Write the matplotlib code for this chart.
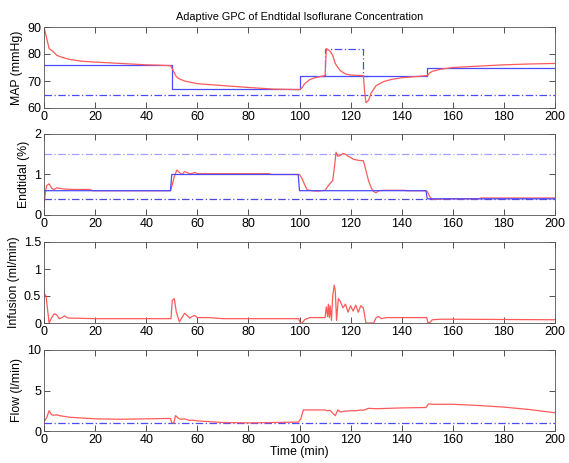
import matplotlib
matplotlib.use("Agg")
import matplotlib.pyplot as plt
import numpy as np

plt.rcParams['font.family'] = ['Liberation Sans', 'DejaVu Sans']

RED = '#ff5a5a'
BLUE = '#4a4aff'
LBLUE = '#a0a0ff'
DBLUE = '#4a4ae0'

# ---- MAP panel ----
map_t = [0, 1, 2, 3.5, 5, 7, 10, 15, 20, 30, 40, 49.5, 50.5, 51.5, 52.5, 55, 60, 70, 80, 90, 100,
         101, 102, 104, 106, 108, 110, 110.5, 112, 113, 114, 115, 116, 118, 120, 125,
         125.5, 126, 127, 128, 130, 133, 136, 140, 145, 150, 151, 152, 155, 160, 170, 180, 190, 200]
map_meas = [90, 86, 82, 81, 79.5, 78.8, 78, 77.3, 77, 76.5, 76, 75.7, 74, 72, 71, 70, 69, 68.3, 67.6, 67, 66.8,
            67.5, 69, 70.5, 71.2, 71.6, 72, 82, 81, 79.5, 76.5, 75, 73.8, 72.6, 72.2, 72,
            66, 62, 62.8, 65.5, 68.3, 69.8, 70.6, 71.2, 71.6, 72, 73, 73.6, 74.3, 75, 75.5, 76, 76.3, 76.5]
map_sp_t = [0, 50, 50, 100, 100, 150, 150, 200]
map_sp = [76, 76, 67, 67, 72, 72, 75, 75]
map_dist_t = [108, 110, 110, 125, 125, 127]
map_dist = [72, 72, 82, 82, 72, 72]
map_min = 65

# ---- Endtidal panel ----
et_t = [0, 0.5, 1, 2, 3, 4, 5, 6, 8, 12, 18, 19, 49.5, 50, 51, 52, 53, 54, 55, 56, 57, 58, 59, 60, 70, 88, 89, 99.5,
        100, 101, 102, 103, 105, 107, 110, 111, 112, 113, 113.7, 114.3, 115, 116, 117, 118, 119, 120, 121, 123, 125,
        126, 127, 128, 129, 130, 131, 133, 141, 142, 149.5, 150, 151, 152, 155, 156, 170, 171, 200]
et_meas = [0.2, 0.55, 0.72, 0.77, 0.66, 0.63, 0.67, 0.66, 0.64, 0.63, 0.63, 0.6, 0.6, 0.7, 0.95, 1.11, 1.05, 1.0, 1.07, 1.05, 1.02, 1.03, 1.05, 1.02, 1.02, 1.02, 1.0, 1.0,
           1.0, 0.9, 0.75, 0.62, 0.6, 0.59, 0.61, 0.7, 0.78, 0.85, 1.2, 1.55, 1.45, 1.47, 1.52, 1.5, 1.45, 1.42, 1.38, 1.35, 1.34,
           1.1, 0.85, 0.68, 0.58, 0.55, 0.6, 0.61, 0.61, 0.6, 0.6, 0.58, 0.45, 0.39, 0.39, 0.4, 0.4, 0.42, 0.42]
et_sp_t = [0, 49.5, 50, 99.5, 100, 149.5, 150, 200]
et_sp = [0.6, 0.6, 1.0, 1.0, 0.6, 0.6, 0.4, 0.4]
et_max = 1.5
et_min = 0.4

# ---- Infusion panel ----
inf_t = [0, 0.8, 2, 3, 4, 5, 6, 7, 8, 9, 10, 12, 20, 30, 49.7, 50.2, 51, 51.8, 53, 54, 55, 56, 57, 58, 59, 60, 65, 70,
         99.7, 100.3, 101, 102, 104, 110, 110.5, 111, 111.3, 111.7, 112, 112.5, 113, 113.6, 114, 114.5, 115.2, 116, 117,
         118, 119, 120, 121, 122, 123, 124, 125, 126, 129, 130, 131, 132, 134, 140, 149.8, 150.3, 151, 152, 155, 160, 200]
inf_val = [0.55, 0.5, 0.0, 0.1, 0.17, 0.15, 0.08, 0.1, 0.13, 0.1, 0.09, 0.09, 0.08, 0.08, 0.08, 0.42, 0.45, 0.2, 0.02, 0.1, 0.18, 0.14, 0.09, 0.12, 0.14, 0.1, 0.1, 0.08,
           0.08, 0.0, 0.0, 0.06, 0.1, 0.1, 0.3, 0.12, 0.35, 0.1, 0.32, 0.05, 0.5, 0.7, 0.6, 0.05, 0.45, 0.4, 0.28,
           0.35, 0.2, 0.32, 0.22, 0.33, 0.2, 0.32, 0.28, 0.0, 0.0, 0.1, 0.12, 0.08, 0.1, 0.1, 0.1, 0.0, 0.01, 0.06, 0.07, 0.07, 0.06]

# ---- Flow panel ----
flow_t = [0, 1, 2, 3, 4, 5, 6, 8, 10, 15, 20, 30, 40, 49.5, 50, 50.8, 51.5, 52.5, 53.5, 55, 57, 58, 60, 65, 70, 80, 90, 99.5,
          100.5, 101.5, 105, 110, 111, 112, 113, 114, 115, 116, 118, 120, 122, 124, 125, 127, 130, 140, 149.5, 150.5, 152, 155,
          160, 170, 180, 190, 200]
flow_val = [1.2, 1.6, 2.5, 2.0, 1.95, 2.0, 1.9, 1.8, 1.7, 1.6, 1.5, 1.45, 1.5, 1.55, 1.0, 1.0, 1.9, 1.6, 1.45, 1.5, 1.3, 1.35, 1.25, 1.15, 1.05, 1.0, 1.05, 1.1,
            1.5, 2.6, 2.6, 2.6, 2.5, 2.55, 2.2, 1.9, 2.6, 2.35, 2.45, 2.5, 2.5, 2.6, 2.55, 2.8, 2.75, 2.85, 2.9, 3.35, 3.3, 3.3,
            3.3, 3.15, 2.95, 2.65, 2.25]
flow_min = 1.0

xticks = list(range(0, 201, 20))

fig = plt.figure(figsize=(5.69, 4.63), dpi=100)
L, W, H = 44 / 569, 511 / 569, 81 / 463
bottoms = [1 - 108 / 463, 1 - 215 / 463, 1 - 323 / 463, 1 - 431 / 463]
axes = [fig.add_axes([L, b, W, H]) for b in bottoms]

lw = 0.9
DD = (0, (6, 2, 1, 2))
a = axes[0]
a.plot(map_dist_t, map_dist, color=BLUE, lw=lw, ls=DD)
a.plot(map_sp_t, map_sp, color=BLUE, lw=lw)
a.axhline(map_min, color=BLUE, lw=lw, ls=DD)
a.plot(map_t, map_meas, color=RED, lw=lw)
a.set_ylim(60, 90)
a.set_yticks([60, 70, 80, 90])
a.set_ylabel('MAP (mmHg)')
a.set_title('Adaptive GPC of Endtidal Isoflurane Concentration', fontsize=7.8, pad=5)

a = axes[1]
a.axhline(et_max, color=LBLUE, lw=lw, ls=DD)
a.axhline(et_min, color=DBLUE, lw=lw, ls=DD)
a.plot(et_t, et_meas, color=RED, lw=lw)
a.plot(et_sp_t, et_sp, color=BLUE, lw=lw)
a.set_ylim(0, 2)
a.set_yticks([0, 1, 2])
a.set_ylabel('Endtidal (%)')

a = axes[2]
a.plot(inf_t, inf_val, color=RED, lw=lw)
a.set_ylim(0, 1.5)
a.set_yticks([0, 0.5, 1, 1.5])
a.set_yticklabels(['0', '0.5', '1', '1.5'])
a.set_ylabel('Infusion (ml/min)')

a = axes[3]
a.axhline(flow_min, color=BLUE, lw=lw, ls=DD)
a.plot(flow_t, flow_val, color=RED, lw=lw)
a.set_ylim(0, 10)
a.set_yticks([0, 5, 10])
a.set_ylabel('Flow (l/min)')
a.set_xlabel('Time (min)', labelpad=0)

for a in axes:
    a.set_xlim(0, 200)
    a.set_xticks(xticks)
    a.tick_params(direction='in', top=True, right=True, length=4, labelsize=9, colors='#333333', width=0.6, pad=2)
    a.yaxis.label.set_size(8.8)
    a.xaxis.label.set_size(8.8)
    a.yaxis.labelpad = 3
    for s in a.spines.values():
        s.set_color('#555555')
        s.set_linewidth(0.6)
    for lab in a.get_xticklabels() + a.get_yticklabels():
        lab.set_color('black')

fig.savefig('out.png', dpi=100)
